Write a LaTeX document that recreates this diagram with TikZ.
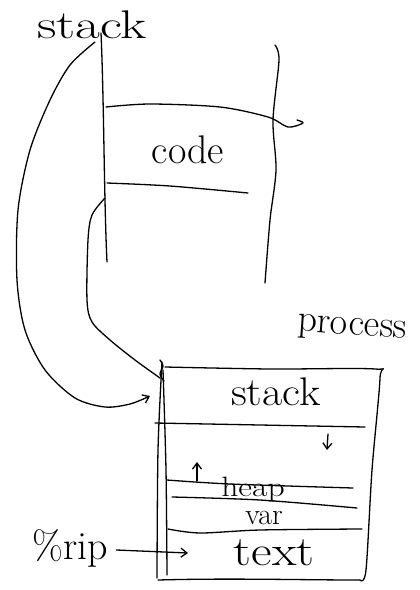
\documentclass[tikz,border=0pt]{standalone}
\usetikzlibrary{arrows.meta}
\begin{document}
\begin{tikzpicture}[x=1pt,y=-1pt,
  line width=1.3pt, line cap=round, line join=round,
  ink/.style={draw=black, line width=1.3pt},
  barb/.style={-{Straight Barb[length=6pt,width=9pt]}},
  lbl/.style={inner sep=0pt, text=black}]
\useasboundingbox (0,0) rectangle (420,590);

% labels
\node[lbl, font=\fontsize{40}{42}\selectfont, xscale=1.35] (stacklbl) at (92,25) {stack};
\node[lbl, font=\fontsize{40}{42}\selectfont] (code) at (188,150) {code};
\node[lbl, font=\fontsize{38}{40}\selectfont, rotate=-4] (process) at (352,330) {process};
\node[lbl, font=\fontsize{40}{42}\selectfont, xscale=1.1] (pstack) at (276,392) {stack};
\node[lbl, font=\fontsize{28}{30}\selectfont, xscale=1.2] (heap) at (253,490) {heap};
\node[lbl, font=\fontsize{30}{32}\selectfont] (var) at (264,518) {var};
\node[lbl, font=\fontsize{42}{44}\selectfont, xscale=1.2] (text) at (274,553) {text};
\node[lbl, font=\fontsize{40}{42}\selectfont] (rip) at (70,548) {\%rip};

% memory column
\coordinate (mTL) at (101,33);
\coordinate (mBL) at (107,262);
\draw[ink] (mTL) .. controls (104,100) and (104,200) .. (mBL);
\draw[ink] plot[smooth] coordinates {(275,45) (279,60) (273,120) (276,170) (270,220) (265,283)};
\draw[ink] plot[smooth] coordinates {(106,107) (150,104) (220,107) (268,117) (288,127) (303,123) (297,120)};
\draw[ink] plot[smooth] coordinates {(107,183) (170,186) (248,193)};

% process box
\coordinate (pA) at (162,362);
\coordinate (pB) at (157,578);
\draw[ink] plot[smooth] coordinates {(165,367) (270,369) (375,369) (380,378) (372,470) (366,570) (360,580)};
\draw[ink] (158,580) .. controls (230,578) and (300,580) .. (360,580);
\draw[ink] plot[smooth] coordinates {(pA) (158,450) (pB)};
\draw[ink] plot[smooth] coordinates {(163,370) (166,470) (167,575)};
\draw[ink] plot[smooth] coordinates {(160,360) (163,366) (160,374) (164,381)};
\draw[ink] plot[smooth] coordinates {(155,423) (260,425) (365,427)};
\draw[ink] plot[smooth] coordinates {(167,480) (230,484) (353,488)};
\draw[ink] plot[smooth] coordinates {(172,497) (260,500) (357,508)};
\draw[ink] plot[smooth] coordinates {(168,529) (200,533) (260,530) (362,529)};

% growth arrows
\coordinate (upS) at (197,481);
\coordinate (upE) at (197,462);
\draw[ink, barb] (upS) -- (upE);
\coordinate (dnS) at (328,434);
\coordinate (dnE) at (327,450);
\draw[ink, barb] (dnS) -- (dnE);

% connectors
\coordinate (c1s) at (95,42);
\coordinate (c1e) at (150,396);
\draw[ink, barb] plot[smooth] coordinates {(c1s) (70,65) (50,100) (30,150) (18,210) (17,280) (25,330) (45,370) (75,398) (105,407) (130,404) (c1e)};
\coordinate (c2s) at (105,198);
\coordinate (c2e) at (160,378);
\draw[ink] plot[smooth] coordinates {(c2s) (92,215) (88,240) (87,300) (92,322) (110,340) (135,360) (c2e)};
\coordinate (ripE) at (188,553);
\draw[ink, barb] (rip.east) ++(8,2) -- (ripE);
\end{tikzpicture}
\end{document}
